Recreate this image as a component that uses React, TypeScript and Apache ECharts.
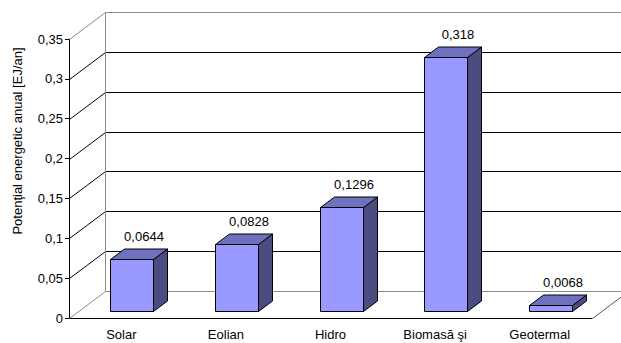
import React, { useEffect, useRef } from "react";
import * as echarts from "echarts";

const categories = ["Solar", "Eolian", "Hidro", "Biomasă şi", "Geotermal"];
const values = [0.0644, 0.0828, 0.1296, 0.318, 0.0068];
const yTicks = [0, 0.05, 0.1, 0.15, 0.2, 0.25, 0.3, 0.35];
const yAxisTitle = "Potenţial energetic anual [EJ/an]";

const fmt = (v: number) => String(parseFloat(v.toFixed(4))).replace(".", ",");

export default function App() {
  const ref = useRef<HTMLDivElement>(null);
  useEffect(() => {
    if (!ref.current) return;
    const chart = echarts.init(ref.current, null, { renderer: "svg" });
    const DX = 36;
    const DY = 27;
    const font = "'Liberation Sans', Arial, sans-serif";
    const FS = 13;
    const snap = (v: number) => Math.round(v) + 0.5;
    chart.setOption({
      animation: false,
      backgroundColor: "#ffffff",
      grid: { left: 69, right: 29, top: 39, bottom: 25, containLabel: false },
      xAxis: {
        type: "category",
        data: categories,
        axisLine: { lineStyle: { color: "#000", width: 1 } },
        axisTick: { length: 5, lineStyle: { color: "#000" } },
        axisLabel: { fontFamily: font, fontSize: FS, color: "#000", margin: 10 },
        splitLine: { show: false },
      },
      yAxis: {
        type: "value",
        min: 0,
        max: 0.35,
        interval: 0.05,
        axisLine: { show: true, lineStyle: { color: "#000", width: 1 } },
        axisTick: { show: true, length: 4, lineStyle: { color: "#000" } },
        axisLabel: {
          fontFamily: font,
          fontSize: FS,
          color: "#000",
          margin: 6,
          formatter: (v: number) => fmt(v),
        },
        splitLine: { show: false },
      },
      graphic: [
        {
          type: "text",
          x: 17,
          y: 141,
          rotation: Math.PI / 2,
          style: {
            text: yAxisTitle,
            fontFamily: font,
            fontSize: FS,
            fill: "#000",
            align: "center",
            verticalAlign: "middle",
          },
        },
      ],
      series: [
        {
          type: "custom",
          silent: true,
          clip: false,
          z: 1,
          data: [[0, 0]],
          renderItem: (params: any, api: any) => {
            const cs = params.coordSys;
            const x0 = cs.x;
            const x1 = cs.x + cs.width;
            const children: any[] = [];
            const yBot = api.coord([0, yTicks[0]])[1];
            const yTop = api.coord([0, yTicks[yTicks.length - 1]])[1];
            yTicks.forEach((v, i) => {
              const y = api.coord([0, v])[1];
              const border = i === 0 || i === yTicks.length - 1;
              const color = border ? "#8c8c8c" : "#000";
              children.push({
                type: "line",
                shape: { x1: snap(x0), y1: snap(y), x2: snap(x0 + DX), y2: snap(y - DY) },
                style: { stroke: color, lineWidth: 1 },
              });
              children.push({
                type: "line",
                shape: { x1: snap(x0 + DX), y1: snap(y - DY), x2: x1 + DX + 10, y2: snap(y - DY) },
                style: { stroke: color, lineWidth: 1 },
              });
            });
            children.push({
              type: "line",
              shape: { x1: snap(x0 + DX), y1: snap(yTop - DY), x2: snap(x0 + DX), y2: snap(yBot - DY) },
              style: { stroke: "#8c8c8c", lineWidth: 1 },
            });
            children.push({
              type: "line",
              shape: { x1: snap(x1), y1: snap(yBot), x2: snap(x1 + DX), y2: snap(yBot - DY) },
              style: { stroke: "#555", lineWidth: 1 },
            });
            return { type: "group", children };
          },
        },
        {
          type: "custom",
          silent: true,
          clip: false,
          z: 5,
          data: values.map((v, i) => [i, v]),
          renderItem: (params: any, api: any) => {
            const idx = api.value(0);
            const v = api.value(1);
            const c = api.coord([idx, 0]);
            const t = api.coord([idx, v]);
            const bw = 43;
            const fx = 10.5;
            const fy = 7.5;
            const ddx = 14;
            const ddy = 10.5;
            const xL = Math.round(c[0] + fx - bw / 2) + 0.5;
            const xR = xL + bw;
            const yB = Math.round(c[1] - fy) + 0.5;
            const yT = Math.round(t[1] - fy) + 0.5;
            const edge = { stroke: "#000", lineWidth: 1, lineJoin: "round" };
            return {
              type: "group",
              children: [
                {
                  type: "polygon",
                  shape: { points: [[xR, yT], [xR + ddx, yT - ddy], [xR + ddx, yB - ddy], [xR, yB]] },
                  style: { fill: "#4c4c80", ...edge },
                },
                {
                  type: "polygon",
                  shape: { points: [[xL, yT], [xL + ddx, yT - ddy], [xR + ddx, yT - ddy], [xR, yT]] },
                  style: { fill: "#7070c0", ...edge },
                },
                {
                  type: "polygon",
                  shape: { points: [[xL, yT], [xR, yT], [xR, yB], [xL, yB]] },
                  style: { fill: "#9999ff", ...edge },
                },
                {
                  type: "text",
                  style: {
                    x: xL + bw / 2 + 12,
                    y: yT - ddy - 13,
                    text: fmt(values[idx]),
                    fontFamily: font,
                    fontSize: FS,
                    fill: "#000",
                    align: "center",
                    verticalAlign: "middle",
                  },
                },
              ],
            };
          },
        },
      ],
    });
    return () => chart.dispose();
  }, []);
  return (
    <div
      ref={ref}
      style={{ position: "absolute", left: 0, top: 0, width: 621, height: 343, background: "#fff" }}
    />
  );
}
